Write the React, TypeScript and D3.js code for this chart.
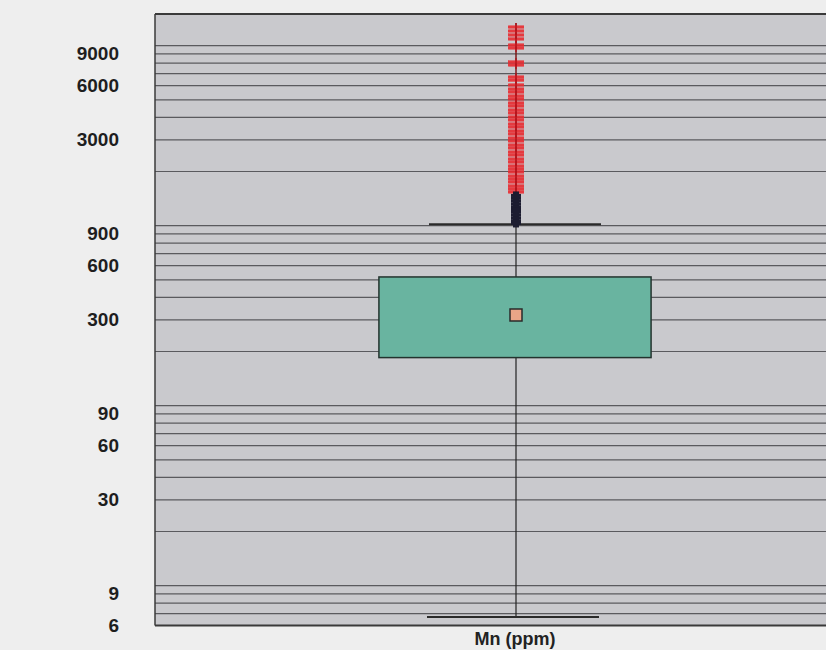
import React from "react";
import * as d3 from "d3";

const categories = ["Mn (ppm)"];
const tickLabels = [6, 9, 30, 60, 90, 300, 600, 900, 3000, 6000, 9000];
const gridValues = [
  7, 8, 9, 10, 20, 30, 40, 50, 60, 70, 80, 90, 100, 200, 300, 400, 500, 600, 700, 800, 900,
  1000, 2000, 3000, 4000, 5000, 6000, 7000, 8000, 9000, 10000,
];
const q1 = [185];
const q3 = [519];
const means = [319];
const whiskerLow = [6.7];
const whiskerHigh = [1020];
const nearOutliers = [1029, 1066, 1105, 1145, 1187, 1230, 1274, 1321, 1369, 1418, 1472];
const farOutliers = [
  1539, 1600, 1662, 1749, 1817, 1888, 1987, 2065, 2146, 2258, 2347, 2470, 2567, 2702, 2807,
  2955, 3070, 3231, 3358, 3534, 3673, 3866, 4017, 4227, 4393, 4624, 4805, 5058, 5255, 5530,
  5745, 6050, 6440, 6700, 7810, 8120, 9710, 10090, 10900, 11470, 12070, 12700,
];

export default function App() {
  const W = 826;
  const H = 650;
  const left = 155;
  const top = 14;
  const bottom = 625.6;
  const y = d3.scaleLog().domain([6, 15000]).range([bottom, top]);
  const x = d3.scaleBand().domain(categories).range([left, 875]).padding(0);
  const cat = categories[0];
  const cx = (x(cat) as number) + x.bandwidth() / 2;
  const boxW = x.bandwidth() * 0.378;
  const capW = 172;
  const font = "'Liberation Sans', Arial, sans-serif";

  return (
    <svg
      width={W}
      height={H}
      style={{ position: "absolute", left: 0, top: 0, display: "block" }}
    >
      <rect x={0} y={0} width={W} height={H} fill="#eeeeee" />
      <rect x={left} y={top} width={875 - left} height={bottom - top} fill="#c9c9cd" />
      {gridValues.map((v) => (
        <line
          key={v}
          x1={left}
          x2={W}
          y1={y(v)}
          y2={y(v)}
          stroke="#5a5a5e"
          strokeWidth={1.2}
        />
      ))}
      {/* frame */}
      <line x1={left} x2={W} y1={top} y2={top} stroke="#3a3a3a" strokeWidth={2} />
      <line x1={left} x2={W} y1={bottom} y2={bottom} stroke="#3a3a3a" strokeWidth={2} />
      <line x1={left} x2={left} y1={top} y2={bottom} stroke="#3a3a3a" strokeWidth={1.5} />

      {tickLabels.map((v) => (
        <text
          key={v}
          x={119}
          y={y(v)}
          textAnchor="end"
          dominantBaseline="central"
          fontFamily={font}
          fontWeight="bold"
          fontSize={19}
          fill="#1e1e1e"
        >
          {v}
        </text>
      ))}

      {/* whiskers */}
      <line x1={cx + 1} x2={cx + 1} y1={y(whiskerHigh[0])} y2={y(q3[0])} stroke="#222" strokeWidth={1.2} />
      <line x1={cx + 1} x2={cx + 1} y1={y(q1[0])} y2={y(whiskerLow[0])} stroke="#222" strokeWidth={1.2} />
      <line
        x1={cx - capW / 2}
        x2={cx + capW / 2}
        y1={y(whiskerHigh[0])}
        y2={y(whiskerHigh[0])}
        stroke="#2a2a2a"
        strokeWidth={2}
      />
      <line
        x1={cx - capW / 2 - 2}
        x2={cx + capW / 2 - 2}
        y1={y(whiskerLow[0])}
        y2={y(whiskerLow[0])}
        stroke="#2a2a2a"
        strokeWidth={2}
      />

      {/* box */}
      <rect
        x={cx - boxW / 2}
        y={y(q3[0])}
        width={boxW}
        height={y(q1[0]) - y(q3[0])}
        fill="#69b4a0"
        stroke="#23332e"
        strokeWidth={1.5}
      />
      <rect
        x={cx + 1 - 6}
        y={y(means[0]) - 6}
        width={12}
        height={12}
        fill="#eaa587"
        stroke="#2a2a2a"
        strokeWidth={1.5}
      />

      {/* outliers */}
      <line
        x1={cx + 1}
        x2={cx + 1}
        y1={y(farOutliers[farOutliers.length - 1]) - 4}
        y2={y(farOutliers[0])}
        stroke="#7a1a1a"
        strokeWidth={1.5}
      />
      {farOutliers.map((v, i) => (
        <g key={"f" + i} stroke="#e82a30" strokeWidth={3.2} strokeOpacity={0.9}>
          <line x1={cx + 1 - 8} x2={cx + 1 + 8} y1={y(v)} y2={y(v)} />
          <line x1={cx + 1} x2={cx + 1} y1={y(v) - 4} y2={y(v) + 4} stroke="#b0141c" strokeWidth={1.5} />
        </g>
      ))}
      {nearOutliers.map((v, i) => (
        <g key={"n" + i} stroke="#1c1c30" strokeWidth={3}>
          <line x1={cx + 1 - 5} x2={cx + 1 + 5} y1={y(v)} y2={y(v)} />
          <line x1={cx + 1} x2={cx + 1} y1={y(v) - 4} y2={y(v) + 4} strokeWidth={6} />
        </g>
      ))}

      <text
        x={cx}
        y={645}
        textAnchor="middle"
        fontFamily={font}
        fontWeight="bold"
        fontSize={18}
        fill="#222"
      >
        {cat}
      </text>
    </svg>
  );
}
